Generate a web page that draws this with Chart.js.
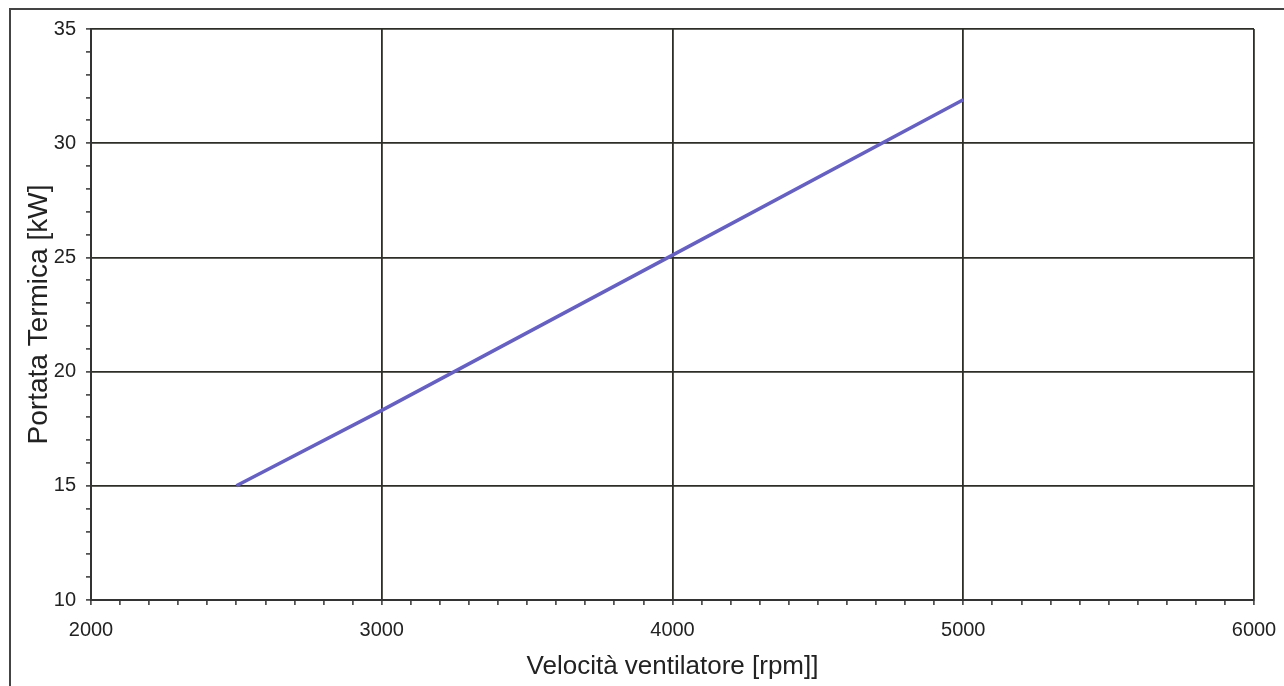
<!DOCTYPE html>
<html lang="it">
<head>
    <meta charset="UTF-8">
    <title>Portata Termica vs Velocità ventilatore</title>
    <script src="https://cdn.jsdelivr.net/npm/chart.js@4.4.1/dist/chart.umd.min.js"></script>
    <style>
        html, body {
            margin: 0;
            padding: 0;
            background: #fff;
        }
        .wrap {
            position: relative;
            width: 1284px;
            height: 686px;
        }
        .frame {
            position: absolute;
            left: 9px;
            top: 8px;
            right: 0;
            bottom: 0;
            border-top: 2px solid #444;
            border-left: 2px solid #444;
            pointer-events: none;
        }
        canvas {
            position: absolute;
            left: 0;
            top: 0;
        }
    </style>
</head>
<body>
<div class="wrap">
    <canvas id="chart" width="1284" height="686"></canvas>
    <div class="frame"></div>
</div>
<script>
    // valori
    const rpm = [2500, 3000, 4000, 5000];
    const portata = [15.0, 18.3, 25.1, 31.9];

    const xMin = 2000, xMax = 6000;
    const yMin = 10, yMax = 35;

    const gridCol = '#2e2e28';

    new Chart(document.getElementById('chart'), {
        type: 'scatter',
        data: {
            datasets: [{
                data: rpm.map((v, i) => ({ x: v, y: portata[i] })),
                showLine: true,
                borderColor: '#6660c0',
                borderWidth: 3.5,
                pointRadius: 0,
                fill: false
            }]
        },
        options: {
            responsive: false,
            animation: false,
            layout: { padding: { top: 29, right: 30, left: 0, bottom: 0 } },
            plugins: {
                legend: { display: false },
                tooltip: { enabled: false }
            },
            scales: {
                x: {
                    type: 'linear',
                    min: xMin,
                    max: xMax,
                    afterFit: s => { s.height = 86; s.paddingLeft = 0; s.paddingRight = 0; },
                    ticks: {
                        stepSize: 100,
                        autoSkip: false,
                        maxRotation: 0,
                        padding: 13,
                        color: '#222',
                        font: { family: 'Liberation Sans, Arial', size: 20 },
                        callback: v => (v % 1000 === 0 ? String(v) : '')
                    },
                    grid: {
                        color: c => (c.tick && c.tick.value % 1000 === 0 ? gridCol : 'rgba(0,0,0,0)'),
                        lineWidth: 1.8,
                        tickColor: '#333',
                        tickLength: 5,
                        tickWidth: 1.5
                    },
                    border: { color: '#333', width: 2 },
                    title: {
                        display: true,
                        text: 'Velocità ventilatore [rpm]]',
                        color: '#222',
                        font: { family: 'Liberation Sans, Arial', size: 26 },
                        padding: { top: 0 }
                    }
                },
                y: {
                    type: 'linear',
                    min: yMin,
                    max: yMax,
                    afterFit: s => { s.width = 91; s.paddingTop = 0; s.paddingBottom = 0; },
                    ticks: {
                        stepSize: 1,
                        autoSkip: false,
                        padding: 10,
                        color: '#222',
                        font: { family: 'Liberation Sans, Arial', size: 20 },
                        callback: v => (v % 5 === 0 ? String(v) : '')
                    },
                    grid: {
                        color: c => (c.tick && c.tick.value % 5 === 0 ? gridCol : 'rgba(0,0,0,0)'),
                        lineWidth: 1.8,
                        tickColor: '#333',
                        tickLength: 5,
                        tickWidth: 1.5
                    },
                    border: { color: '#333', width: 2 },
                    title: {
                        display: true,
                        text: 'Portata Termica [kW]',
                        color: '#222',
                        font: { family: 'Liberation Sans, Arial', size: 28 },
                        padding: { bottom: 0, top: 22 }
                    }
                }
            }
        }
    });
</script>
</body>
</html>
